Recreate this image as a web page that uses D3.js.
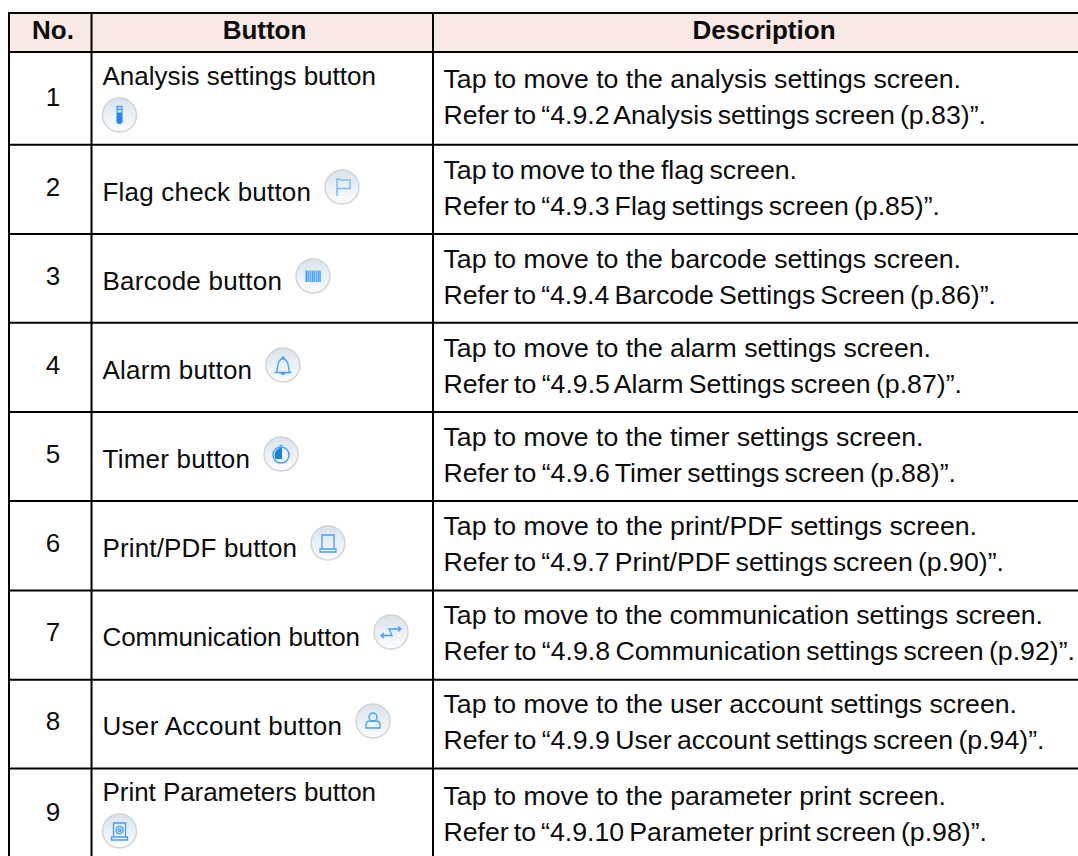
<!DOCTYPE html>
<html><head><meta charset="utf-8">
<script src="https://cdn.jsdelivr.net/npm/d3@7"></script>
<style>html,body{margin:0;padding:0;background:#fff;overflow:hidden}svg{display:block}
text{font-family:"Liberation Sans",Arial,sans-serif;font-size:26px;fill:#0c0c0c}
.desc{font-size:26.7px}</style>
</head><body><svg id="c" width="1078" height="856"></svg>
<script>
const headers = ["No.","Button","Description"];
const numbers = ["1","2","3","4","5","6","7","8","9"];
const buttons = ["Analysis settings button","Flag check button","Barcode button","Alarm button","Timer button","Print/PDF button","Communication button","User Account button","Print Parameters button"];
const icons = ["tube","flag","barcode","bell","timer","print","comm","user","param"];
const actions = ["Tap to move to the analysis settings screen.","Tap to move to the flag screen.","Tap to move to the barcode settings screen.","Tap to move to the alarm settings screen.","Tap to move to the timer settings screen.","Tap to move to the print/PDF settings screen.","Tap to move to the communication settings screen.","Tap to move to the user account settings screen.","Tap to move to the parameter print screen."];
const refs = ["Refer to “4.9.2 Analysis settings screen (p.83)”.","Refer to “4.9.3 Flag settings screen (p.85)”.","Refer to “4.9.4 Barcode Settings Screen (p.86)”.","Refer to “4.9.5 Alarm Settings screen (p.87)”.","Refer to “4.9.6 Timer settings screen (p.88)”.","Refer to “4.9.7 Print/PDF settings screen (p.90)”.","Refer to “4.9.8 Communication settings screen (p.92)”.","Refer to “4.9.9 User account settings screen (p.94)”.","Refer to “4.9.10 Parameter print screen (p.98)”."];
// measured right edges of each text line in the reference (layout only)
const buttonEnds = [376,311,282,252,250,297,360,342,376];
const actionEnds = [961,797,961,931,923.5,977,1043,1017,946];
const refEnds = [986,940,996,962,956,1004,1075,1044.5,987];

const svg = d3.select("#c");
const W = 1078, H = 856;
const y = d3.scaleLinear().domain(d3.range(11)).range([13,52,144.7,234,322.8,412,501,590.6,679.8,768.6,857]);
const rowTop = d3.scaleLinear().domain([0,1,8]).range([52,145,768]);
const x = d3.scaleLinear().domain([0,1,2,3]).range([9,91.5,433,1078]);
const headerX = d3.scaleOrdinal().domain(headers).range([53,264.5,764]);
const ink = "#3f9dff";

const defs = svg.append("defs");
const g1 = defs.append("linearGradient").attr("id","btn").attr("x1",0).attr("y1",0).attr("x2",0).attr("y2",1);
g1.append("stop").attr("offset","0%").attr("stop-color","#d9e3ea");
g1.append("stop").attr("offset","100%").attr("stop-color","#fdfdfe");

svg.append("rect").attr("x",x(0)).attr("y",y(0)).attr("width",W-x(0)).attr("height",y(1)-y(0)).attr("fill","#f9e9e5");

const hl = svg.append("g").attr("stroke","#000").attr("stroke-width",2);
hl.selectAll("line.h").data(d3.range(10)).join("line").attr("class","h")
  .attr("x1",x(0)-1).attr("x2",W).attr("y1",d=>y(d)).attr("y2",d=>y(d));
hl.selectAll("line.v").data(d3.range(3)).join("line").attr("class","v")
  .attr("x1",d=>x(d)).attr("x2",d=>x(d)).attr("y1",y(0)-1).attr("y2",H);

svg.append("g").selectAll("text").data(headers).join("text")
  .attr("x",d=>headerX(d)).attr("y",y(0)+25.5)
  .attr("text-anchor","middle").style("font-weight","bold").text(d=>d);

// adjust word gaps so a line ends where the reference line ends
function fit(sel, end){
  const n = sel.node(), gaps = (n.textContent.match(/ /g)||[]).length;
  const len = n.getComputedTextLength();
  if(gaps) sel.style("word-spacing",((end-(+sel.attr("x"))-len)/gaps)+"px");
}
// adjust letter gaps instead, for the button labels
function track(sel, end){
  const n = sel.node();
  const len = n.getComputedTextLength();
  sel.style("letter-spacing",((end-(+sel.attr("x"))-len)/(n.textContent.length-1))+"px");
}

const wrapped = i => i===0 || i===8;

numbers.forEach((n,i)=>{
  const t = rowTop(i);
  svg.append("text").attr("x",53).attr("y",t+(wrapped(i)?(i===0?54:53):51)).attr("text-anchor","middle").text(n);
  track(svg.append("text").attr("x",102.5).attr("y",t+(wrapped(i)?33:56)).text(buttons[i]),buttonEnds[i]);
  const cx = wrapped(i) ? 119.5 : buttonEnds[i]+31;
  const cy = t + (wrapped(i)?63:42);
  drawIcon(cx,cy,icons[i]);
  const off = i===0?35.5:(i===8?37:33.7);
  fit(svg.append("text").attr("class","desc").attr("x",443.5).attr("y",t+off).text(actions[i]),actionEnds[i]);
  fit(svg.append("text").attr("class","desc").attr("x",443.5).attr("y",t+off+36).text(refs[i]),refEnds[i]);
});

function drawIcon(cx,cy,kind){
  const g = svg.append("g").attr("transform",`translate(${cx},${cy})`);
  g.append("circle").attr("r",17).attr("fill","url(#btn)").attr("stroke","#cfd3d6").attr("stroke-width",1.4);
  const s = g.append("g").attr("fill","none").attr("stroke",ink).attr("stroke-width",1.3);
  const p = d => s.append("path").attr("d",d);
  if(kind==="tube"){
    p("M-2.5,-8.5H2.5V-5.5H-2.5Z M-2.5,-5.5V7Q0,10 2.5,7V-5.5");
    s.append("path").attr("d","M-2.5,-2.5H2.5V7Q0,10 -2.5,7Z").attr("fill","#1f86f0").attr("stroke","none");
  } else if(kind==="flag"){
    p("M-5,-8.5V9M-5,-8.5L1,-6.5L8,-7.5V1.5H-5").attr("stroke-width",1.5).attr("stroke","#7dbcf7");
  } else if(kind==="barcode"){
    d3.range(-7.5,8,2).forEach((v,i)=>s.append("rect").attr("x",v).attr("y",-5.5).attr("width",i%3===0?1.7:1.3).attr("height",11.5).attr("fill",ink).attr("stroke","none"));
  } else if(kind==="bell"){
    p("M-8.5,7.5H8.5M-6.5,7.5C-5,3 -6.5,-5 0,-6.5C6.5,-5 5,3 6.5,7.5M-1.5,-6.5Q0,-9.5 1.5,-6.5M-2.5,7.5Q0,11 2.5,7.5");
  } else if(kind==="timer"){
    s.append("circle").attr("cy",1).attr("r",8).attr("stroke-width",1.4);
    s.append("path").attr("d","M1,-6.5V5L-5.5,5A8,8 0 0 1 1,-6.5Z").attr("fill","#1f7fe0").attr("stroke","none");
    p("M-1.5,-8.5H1.5");
  } else if(kind==="print"){
    p("M-6,6V-8H6V6M-8,6H8V9H-8Z");
  } else if(kind==="comm"){
    p("M-10,3.5H1L-2,-3H10M7,-5.5L10,-3L7,-0.5M-7,1L-10,3.5L-7,6");
  } else if(kind==="user"){
    s.append("circle").attr("cy",-4).attr("r",4);
    p("M-7,7V4Q-7,0 -3,0H3Q7,0 7,4V7Z");
  } else if(kind==="param"){
    p("M-6,6V-8H6V6M-8,6H8V9H-8Z");
    s.append("circle").attr("cy",-1).attr("r",3.6);
    s.append("circle").attr("cy",-1).attr("r",1.4);
  }
}
</script></body></html>
